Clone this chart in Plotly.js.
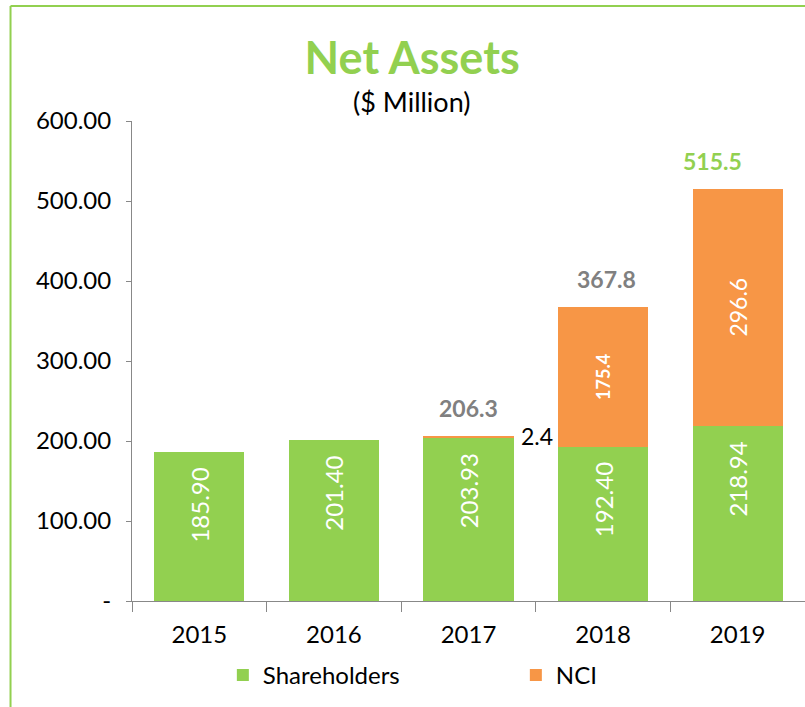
<!DOCTYPE html>
<html><head><meta charset="utf-8">
<script src="https://cdn.plot.ly/plotly-3.0.1.min.js"></script>
<style>html,body{margin:0;padding:0;background:#fff}#c{width:805px;height:707px}</style>
</head><body><div id="c"></div>
<script>
const years = ['2015','2016','2017','2018','2019'];
const shareholders = [185.90, 201.40, 203.93, 192.40, 218.94];
const nci = [0, 0, 2.4, 175.4, 296.6];
const totals = [null, null, 206.3, 367.8, 515.5];
const yTicks = [0, 100, 200, 300, 400, 500, 600];
const yTickText = ['-', '100.00', '200.00', '300.00', '400.00', '500.00', '600.00'];

const GREEN = '#92D050', ORANGE = '#F79646';
const FONT = 'Lato, "Open Sans", sans-serif';

const nciText = nci.map((v, i) => (i === 3 ? '<b>' + v.toFixed(1) + '</b>' : (v > 10 ? v.toFixed(1) : '')));
const nciSize = nci.map((v, i) => (i === 3 ? 18 : 23));

const traces = [
  {type: 'bar', name: 'Shareholders', x: years, y: shareholders, marker: {color: GREEN}, hoverinfo: 'skip'},
  {type: 'bar', name: 'NCI', x: years, y: nci, marker: {color: ORANGE},
   text: nciText, textposition: 'inside', textangle: -90, insidetextanchor: 'middle',
   constraintext: 'none', textfont: {color: '#fff', size: nciSize, family: FONT}, hoverinfo: 'skip'}
];

const annotations = [];
shareholders.forEach((v, i) => {
  annotations.push({x: i, y: v, xref: 'x', yref: 'y', text: v.toFixed(2), textangle: -90,
    showarrow: false, xanchor: 'center', yanchor: 'middle', yshift: -53,
    font: {family: FONT, size: 24, color: '#fff'}});
});
totals.forEach((t, i) => {
  if (t === null) return;
  annotations.push({x: i, y: t, xref: 'x', yref: 'y', text: '<b>' + t.toFixed(1) + '</b>',
    showarrow: false, yanchor: 'bottom', yshift: 12, xshift: i === 4 ? -25 : (i === 3 ? 3 : 0),
    font: {family: FONT, size: 23, color: i === 4 ? GREEN : '#808080'}});
});
annotations.push({x: 2, y: shareholders[2] + nci[2], xref: 'x', yref: 'y', text: nci[2].toFixed(1),
  showarrow: false, xanchor: 'left', xshift: 50, yshift: 0,
  font: {family: FONT, size: 23, color: '#000'}});
annotations.push({xref: 'paper', yref: 'paper', x: 0.416, y: 1.0, yanchor: 'bottom', yshift: 1,
  text: '($ Million)', showarrow: false, font: {family: FONT, size: 27, color: '#000'}});

const layout = {
  width: 805, height: 707,
  margin: {l: 132, r: 0, t: 121, b: 106, autoexpand: false},
  paper_bgcolor: '#fff', plot_bgcolor: '#fff',
  font: {family: FONT, size: 20, color: '#000'},
  title: {text: '<b>Net Assets</b>', font: {family: FONT, size: 45, color: GREEN},
          x: 0.512, xanchor: 'center', y: 0.918, yanchor: 'middle'},
  barmode: 'stack', bargap: 0.33, showlegend: true,
  xaxis: {type: 'category', tickson: 'boundaries', ticks: 'outside', ticklen: 10, tickcolor: '#888',
          showline: true, linecolor: '#888', linewidth: 1, showgrid: false, zeroline: false,
          ticklabelstandoff: 12,
          tickfont: {family: FONT, size: 24, color: '#000'}, fixedrange: true},
  yaxis: {range: [0, 600], tickvals: yTicks, ticktext: yTickText, ticks: 'outside', ticklen: 5,
          tickcolor: '#888', showline: true, linecolor: '#888', linewidth: 1, showgrid: false,
          zeroline: false, tickfont: {family: FONT, size: 24, color: '#000'}, ticklabelstandoff: 10,
          fixedrange: true},
  legend: {orientation: 'h', traceorder: 'normal', x: 0.135, xanchor: 'left', y: -0.155, yanchor: 'middle',
           entrywidth: 248, font: {family: FONT, size: 24, color: '#000'}, itemclick: false},
  annotations: annotations,
  shapes: [
    {type: 'line', xref: 'paper', yref: 'paper', x0: -0.1805, x1: -0.1805, y0: -0.23, y1: 1.2396,
     line: {color: GREEN, width: 2}},
    {type: 'line', xref: 'paper', yref: 'paper', x0: -0.1805, x1: 1.01, y0: 1.2396, y1: 1.2396,
     line: {color: GREEN, width: 2}}
  ]
};
Plotly.newPlot('c', traces, layout, {displayModeBar: false, staticPlot: true});
</script></body></html>
